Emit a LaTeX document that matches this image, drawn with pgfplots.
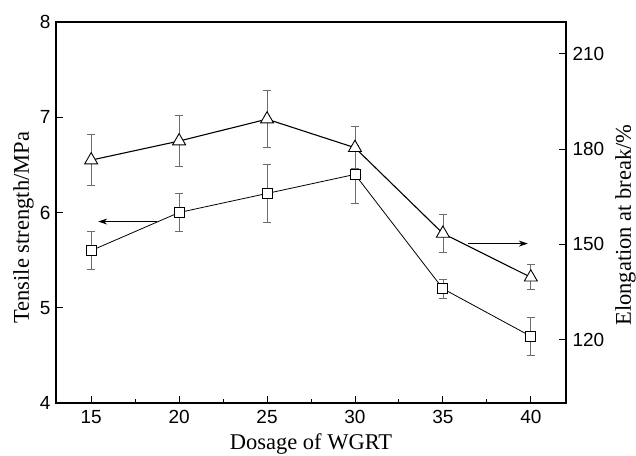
\documentclass[border=0pt]{standalone}
\usepackage{fontspec}
\setmainfont{Liberation Serif}
\newfontfamily\arialf{Liberation Sans}
\usepackage{pgfplots}
\pgfplotsset{compat=1.18}
\usetikzlibrary{arrows.meta}

% tensile strength (left axis): x, y, err
\pgfplotstableread{
x  y    e
15 5.60 0.20
20 6.00 0.20
25 6.20 0.30
30 6.40 0.30
35 5.20 0.10
40 4.70 0.20
}\tensile
% elongation at break (right axis): x, y, err
\pgfplotstableread{
x  y     e
15 176.5 8.0
20 182.5 8.0
25 189.4 9.0
30 180.4 6.6
35 153.4 6.0
40 139.6 3.9
}\elong

\pgfplotsset{
  common/.style={
    scale only axis, width=510pt, height=381pt,
    xmin=13, xmax=42,
    tick align=inside,
    major tick length=7pt, minor tick length=4pt,
    tick style={line width=0.9pt, black},
    axis line style={line width=1.1pt},
    /pgf/number format/assume math mode=true,
    tick label style={font=\fontsize{19}{19}\selectfont\arialf},
    label style={font=\fontsize{22.5}{22.5}\selectfont},
  },
  ebar/.style={error bars/.cd, y dir=both, y explicit,
    error bar style={line width=0.8pt, gray!85!black},
    error mark options={rotate=90, mark size=3.8pt, line width=0.8pt, gray!85!black}},
}

\begin{document}
\begin{tikzpicture}
\begin{axis}[common,
  ymin=4, ymax=8,
  xtick={15,20,...,40}, minor x tick num=1,
  ytick={4,5,6,7,8},
  xtick pos=bottom, ytick pos=left,
  xticklabel style={yshift=-4pt},
  yticklabel style={xshift=-2pt},
  xlabel={Dosage of WGRT},
  xlabel style={at={(axis description cs:0.5,0)}, anchor=base, yshift=-46pt},
  ylabel={Tensile strength/MPa},
  ylabel style={at={(axis description cs:-0.053,0.46)}, anchor=base},
]
\addplot[black, line width=0.8pt, mark=square*, mark size=5pt,
  mark options={fill=white, line width=0.9pt}, ebar]
  table[x=x, y=y, y error=e] {\tensile};
\draw[-{Stealth[length=9pt,width=6pt]}, line width=0.8pt]
  (axis cs:18.75,5.905) -- (axis cs:15.4,5.905);
\end{axis}
\begin{axis}[common,
  ymin=100, ymax=220,
  axis x line=none, axis y line*=right,
  ytick={120,150,180,210},
  yticklabel style={xshift=3pt},
  ylabel={Elongation at break/\%},
  ylabel style={at={(axis description cs:1.127,0.467)}, anchor=base},
]
\addplot[black, line width=1.1pt, mark=triangle*, mark size=7.5pt,
  mark options={fill=white, line width=0.9pt}, ebar]
  table[x=x, y=y, y error=e] {\elong};
\draw[-{Stealth[length=9pt,width=6pt]}, line width=0.8pt]
  (axis cs:36.42,150.2) -- (axis cs:39.83,150.2);
\end{axis}
\pgfresetboundingbox
\path (-56pt,-52pt) rectangle (580pt,403pt);
\end{tikzpicture}
\end{document}
